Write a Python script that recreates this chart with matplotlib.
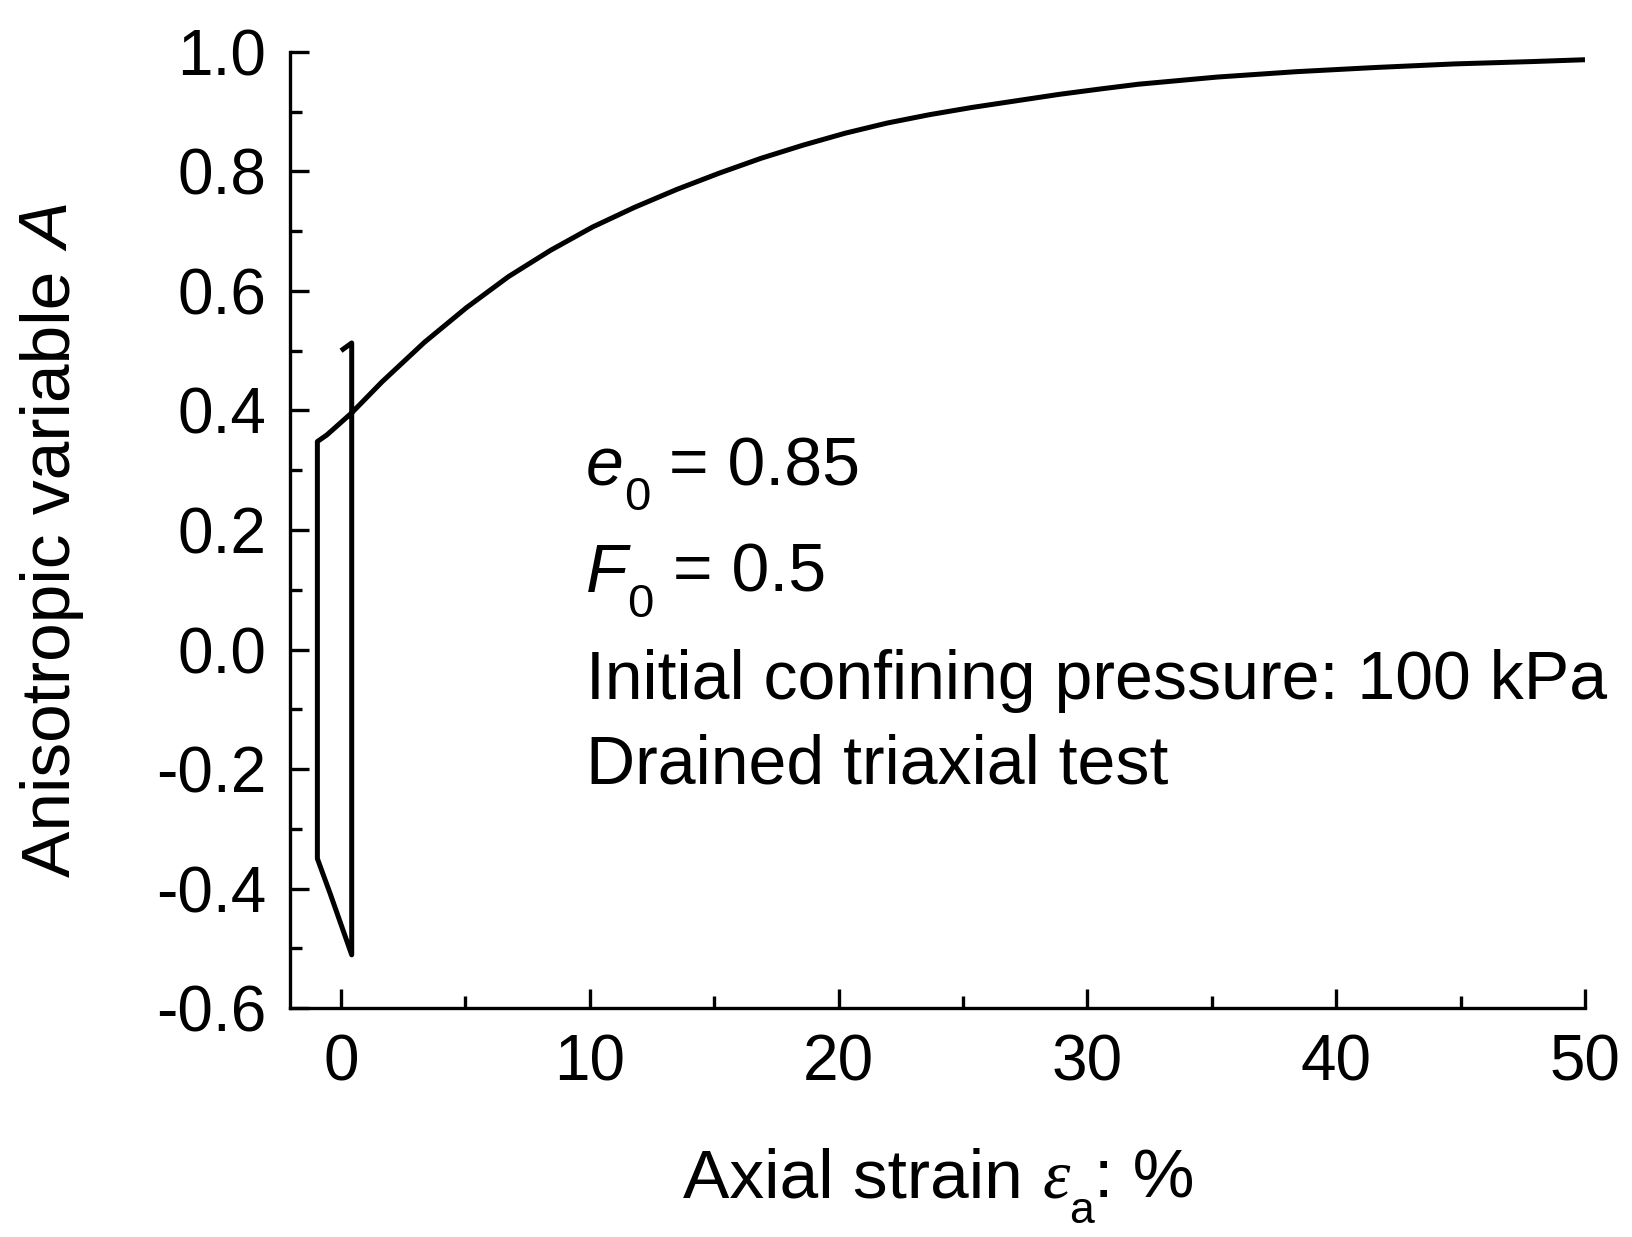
import matplotlib
matplotlib.use('Agg')
from matplotlib import pyplot as plt
from matplotlib.font_manager import FontProperties
from matplotlib.ticker import MultipleLocator, FormatStrFormatter

plt.rcParams['font.family'] = ['Liberation Sans', 'DejaVu Sans']
plt.rcParams['axes.unicode_minus'] = False

# strain (%) and anisotropic variable A read off the picture
# (hook at top, drop down, back to the left, then the main curve)
strain = [0.0, 0.43, 0.43, -0.44, -0.95, -0.95, -0.57, 0.43, 1.65, 3.35,
          5.04, 6.73, 8.42, 10.11, 11.80, 13.50, 15.19, 16.88, 18.57, 20.26,
          21.95, 23.65, 25.34, 28.86, 30.51, 32.05, 35.22, 38.40, 41.58,
          44.76, 47.94, 50.0]
aniso = [0.500, 0.513, -0.511, -0.408, -0.350, 0.348, 0.359, 0.396, 0.448,
         0.514, 0.572, 0.624, 0.668, 0.707, 0.740, 0.770, 0.797, 0.822,
         0.844, 0.864, 0.881, 0.895, 0.907, 0.929, 0.938, 0.946, 0.958,
         0.967, 0.974, 0.980, 0.984, 0.987]

fig = plt.figure(figsize=(16.32, 12.37), dpi=100)
ax = fig.add_axes([0.1777, 0.1851, 0.9712 - 0.1777, 0.958 - 0.1851])
renderer = fig.canvas.get_renderer()


def width_pt(s, fp):
    w, h, d = renderer.get_text_width_height_descent(s, fp, ismath=False)
    return w * 72.0 / fig.dpi


def sub_text(x, y, trans, base, sub, rest, base_fp, sub_fp, rest_fp, drop, start=0.0):
    # base letter, lowered subscript, then the rest of the line
    ax.annotate(base, xy=(x, y), xycoords=trans, xytext=(start, 0),
                textcoords='offset points', fontproperties=base_fp,
                va='baseline', ha='left', annotation_clip=False)
    w1 = start + width_pt(base, base_fp)
    ax.annotate(sub, xy=(x, y), xycoords=trans, xytext=(w1, -drop),
                textcoords='offset points', fontproperties=sub_fp,
                va='baseline', ha='left', annotation_clip=False)
    w2 = w1 + width_pt(sub, sub_fp)
    ax.annotate(rest, xy=(x, y), xycoords=trans, xytext=(w2, 0),
                textcoords='offset points', fontproperties=rest_fp,
                va='baseline', ha='left', annotation_clip=False)


ax.plot(strain, aniso, color='black', lw=3.6, solid_joinstyle='round',
        solid_capstyle='butt')

it_fp = FontProperties(family='Liberation Sans', style='italic', size=49)
s34 = FontProperties(family='Liberation Sans', size=34)
s49 = FontProperties(family='Liberation Sans', size=49)
sub_text(9.85, 0.275, ax.transData, 'e', '0', ' = 0.85', it_fp, s34, s49, 18)
sub_text(9.85, 0.097, ax.transData, 'F', '0', ' = 0.5', it_fp, s34, s49, 18)
ax.text(9.85, -0.083, 'Initial confining pressure: 100 kPa', fontsize=49,
        va='baseline', ha='left')
ax.text(9.85, -0.225, 'Drained triaxial test', fontsize=49,
        va='baseline', ha='left')

ax.set_xlim(-2.05, 50)
ax.set_ylim(-0.6, 1.0)
ax.xaxis.set_major_locator(MultipleLocator(10))
ax.xaxis.set_minor_locator(MultipleLocator(5))
ax.yaxis.set_major_locator(MultipleLocator(0.2))
ax.yaxis.set_minor_locator(MultipleLocator(0.1))
ax.yaxis.set_major_formatter(FormatStrFormatter('%.1f'))

for side in ['top', 'right']:
    ax.spines[side].set_visible(False)
for side in ['left', 'bottom']:
    ax.spines[side].set_linewidth(2.4)

ax.tick_params(which='both', direction='in', width=2.4, labelsize=46)
ax.tick_params(which='major', length=14)
ax.tick_params(which='minor', length=8.5)
ax.tick_params(axis='x', which='major', pad=18)
ax.tick_params(axis='y', which='major', pad=17)

# x axis title: "Axial strain ε_a: %"
s50 = FontProperties(family='Liberation Sans', size=50)
eps_fp = FontProperties(family='Liberation Serif', style='italic', size=50)
s32 = FontProperties(family='Liberation Sans', size=32)
x0 = 683 / 1632
y0 = 1 - 1198 / 1237
fig.text(x0, y0, 'Axial strain ', fontproperties=s50, va='baseline', ha='left')
sub_text(x0, y0, fig.transFigure, '\u03b5', 'a', ': %', eps_fp, s32, s50, 18,
         start=width_pt('Axial strain ', s50))

# y axis title: "Anisotropic variable A"
w_y1 = width_pt('Anisotropic variable ', s50)
w_y2 = width_pt('A', FontProperties(family='Liberation Sans', style='italic', size=50))
yc = 1 - 541 / 1237
y_start = yc - (w_y1 + w_y2) / 2 * fig.dpi / 72 / 1237
fig.text(70 / 1632, y_start, 'Anisotropic variable ', fontproperties=s50,
         rotation=90, rotation_mode='anchor', va='baseline', ha='left')
fig.text(70 / 1632, y_start + w_y1 * fig.dpi / 72 / 1237, 'A', fontsize=50,
         style='italic', rotation=90, rotation_mode='anchor',
         va='baseline', ha='left')

fig.savefig('out.png', dpi=100)
